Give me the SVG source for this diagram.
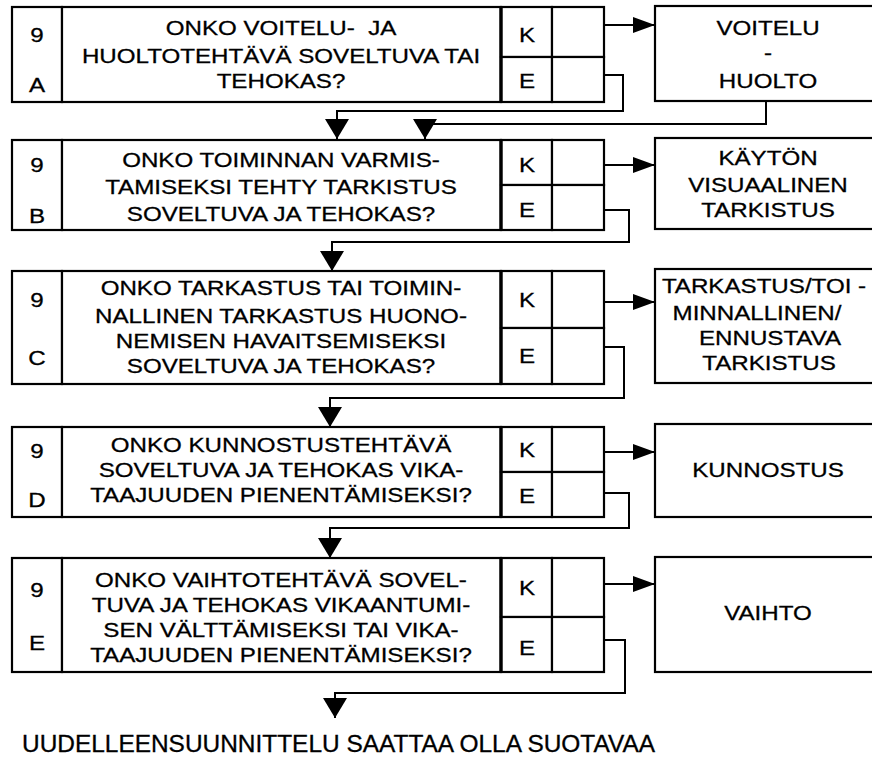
<svg xmlns="http://www.w3.org/2000/svg" width="872" height="770" viewBox="0 0 872 770">
<style>
.bx{fill:#fff;stroke:#000;stroke-width:2.2}
.sep{stroke:#000;stroke-width:3.4}
.ln{fill:none;stroke:#000;stroke-width:2}
.t{font-family:"Liberation Sans",Arial,Helvetica,sans-serif;font-size:21px;text-anchor:middle;fill:#000;stroke:#000;stroke-width:0.3}
.b{font-family:"Liberation Sans",Arial,Helvetica,sans-serif;font-size:23px;fill:#000;stroke:#000;stroke-width:0.3}
</style>
<defs>
<marker id="arr" viewBox="0 0 22 16" refX="22" refY="8" markerWidth="22" markerHeight="16" markerUnits="userSpaceOnUse" orient="auto"><path d="M0,0 L22,8 L0,16 Z" fill="#000"/></marker>
<marker id="arrd" viewBox="0 0 20 24" refX="20" refY="12" markerWidth="20" markerHeight="24" markerUnits="userSpaceOnUse" orient="auto"><path d="M0,0 L20,12 L0,24 Z" fill="#000"/></marker>
</defs>
<rect width="872" height="770" fill="#fff"/>

<!-- decision 9A -->
<g id="q9a">
<rect class="bx" x="12" y="7" width="50" height="95"/>
<rect class="bx" x="62" y="7" width="439" height="95"/>
<rect class="bx" x="501" y="7" width="51" height="50"/>
<rect class="bx" x="501" y="57" width="51" height="45"/>
<rect class="bx" x="552" y="7" width="52" height="50"/>
<rect class="bx" x="552" y="57" width="52" height="45"/>
<line class="sep" x1="501" y1="6" x2="501" y2="103"/>
<text class="t" transform="translate(37,42) scale(1.15,1)">9</text>
<text class="t" transform="translate(37,92) scale(1.15,1)">A</text>
<text class="t" transform="translate(281,35) scale(1.15,1)" xml:space="preserve">ONKO VOITELU-  JA</text>
<text class="t" transform="translate(281,63) scale(1.15,1)">HUOLTOTEHTÄVÄ SOVELTUVA TAI</text>
<text class="t" transform="translate(281,88) scale(1.15,1)">TEHOKAS?</text>
<text class="t" transform="translate(527,42) scale(1.15,1)">K</text>
<text class="t" transform="translate(527,88) scale(1.15,1)">E</text>
</g>
<g id="r9a">
<rect class="bx" x="655" y="6" width="230" height="95"/>
<text class="t" transform="translate(768,35) scale(1.15,1)">VOITELU</text>
<text class="t" transform="translate(768,60) scale(1.15,1)">-</text>
<text class="t" transform="translate(768,88) scale(1.15,1)">HUOLTO</text>
</g>

<!-- decision 9B -->
<g id="q9b">
<rect class="bx" x="12" y="140" width="50" height="90"/>
<rect class="bx" x="62" y="140" width="439" height="90"/>
<rect class="bx" x="501" y="140" width="51" height="45"/>
<rect class="bx" x="501" y="185" width="51" height="45"/>
<rect class="bx" x="552" y="140" width="52" height="45"/>
<rect class="bx" x="552" y="185" width="52" height="45"/>
<line class="sep" x1="501" y1="139" x2="501" y2="231"/>
<text class="t" transform="translate(37,172) scale(1.15,1)">9</text>
<text class="t" transform="translate(37,223) scale(1.15,1)">B</text>
<text class="t" transform="translate(281,167) scale(1.15,1)">ONKO TOIMINNAN VARMIS-</text>
<text class="t" transform="translate(281,194) scale(1.15,1)">TAMISEKSI TEHTY TARKISTUS</text>
<text class="t" transform="translate(281,221) scale(1.15,1)">SOVELTUVA JA TEHOKAS?</text>
<text class="t" transform="translate(527,172) scale(1.15,1)">K</text>
<text class="t" transform="translate(527,217) scale(1.15,1)">E</text>
</g>
<g id="r9b">
<rect class="bx" x="655" y="138" width="230" height="91"/>
<text class="t" transform="translate(768,165) scale(1.15,1)">KÄYTÖN</text>
<text class="t" transform="translate(768,192) scale(1.15,1)">VISUAALINEN</text>
<text class="t" transform="translate(768,217) scale(1.15,1)">TARKISTUS</text>
</g>

<!-- decision 9C -->
<g id="q9c">
<rect class="bx" x="12" y="271" width="50" height="113"/>
<rect class="bx" x="62" y="271" width="439" height="113"/>
<rect class="bx" x="501" y="271" width="51" height="57"/>
<rect class="bx" x="501" y="328" width="51" height="56"/>
<rect class="bx" x="552" y="271" width="52" height="57"/>
<rect class="bx" x="552" y="328" width="52" height="56"/>
<line class="sep" x1="501" y1="270" x2="501" y2="385"/>
<text class="t" transform="translate(37,307) scale(1.15,1)">9</text>
<text class="t" transform="translate(37,365) scale(1.15,1)">C</text>
<text class="t" transform="translate(281,295) scale(1.15,1)">ONKO TARKASTUS TAI TOIMIN-</text>
<text class="t" transform="translate(281,323) scale(1.15,1)">NALLINEN TARKASTUS HUONO-</text>
<text class="t" transform="translate(281,348) scale(1.15,1)">NEMISEN HAVAITSEMISEKSI</text>
<text class="t" transform="translate(281,373) scale(1.15,1)">SOVELTUVA JA TEHOKAS?</text>
<text class="t" transform="translate(527,307) scale(1.15,1)">K</text>
<text class="t" transform="translate(527,363) scale(1.15,1)">E</text>
</g>
<g id="r9c">
<rect class="bx" x="655" y="269" width="230" height="114"/>
<text class="t" transform="translate(764,293) scale(1.15,1)">TARKASTUS/TOI -</text>
<text class="t" transform="translate(757,320) scale(1.15,1)">MINNALLINEN/</text>
<text class="t" transform="translate(770,345) scale(1.15,1)">ENNUSTAVA</text>
<text class="t" transform="translate(769,370) scale(1.15,1)">TARKISTUS</text>
</g>

<!-- decision 9D -->
<g id="q9d">
<rect class="bx" x="12" y="427" width="50" height="90"/>
<rect class="bx" x="62" y="427" width="439" height="90"/>
<rect class="bx" x="501" y="427" width="51" height="45"/>
<rect class="bx" x="501" y="472" width="51" height="45"/>
<rect class="bx" x="552" y="427" width="52" height="45"/>
<rect class="bx" x="552" y="472" width="52" height="45"/>
<line class="sep" x1="501" y1="426" x2="501" y2="518"/>
<text class="t" transform="translate(37,458) scale(1.15,1)">9</text>
<text class="t" transform="translate(37,507) scale(1.15,1)">D</text>
<text class="t" transform="translate(281,452) scale(1.15,1)">ONKO KUNNOSTUSTEHTÄVÄ</text>
<text class="t" transform="translate(281,477) scale(1.15,1)">SOVELTUVA JA TEHOKAS VIKA-</text>
<text class="t" transform="translate(281,502) scale(1.15,1)">TAAJUUDEN PIENENTÄMISEKSI?</text>
<text class="t" transform="translate(527,457) scale(1.15,1)">K</text>
<text class="t" transform="translate(527,503) scale(1.15,1)">E</text>
</g>
<g id="r9d">
<rect class="bx" x="655" y="424" width="230" height="93"/>
<text class="t" transform="translate(768,477) scale(1.15,1)">KUNNOSTUS</text>
</g>

<!-- decision 9E -->
<g id="q9e">
<rect class="bx" x="12" y="558" width="50" height="114"/>
<rect class="bx" x="62" y="558" width="439" height="114"/>
<rect class="bx" x="501" y="558" width="51" height="59"/>
<rect class="bx" x="501" y="617" width="51" height="55"/>
<rect class="bx" x="552" y="558" width="52" height="59"/>
<rect class="bx" x="552" y="617" width="52" height="55"/>
<line class="sep" x1="501" y1="557" x2="501" y2="673"/>
<text class="t" transform="translate(37,597) scale(1.15,1)">9</text>
<text class="t" transform="translate(37,650) scale(1.15,1)">E</text>
<text class="t" transform="translate(281,587) scale(1.15,1)">ONKO VAIHTOTEHTÄVÄ SOVEL-</text>
<text class="t" transform="translate(281,612) scale(1.15,1)">TUVA JA TEHOKAS VIKAANTUMI-</text>
<text class="t" transform="translate(281,637) scale(1.15,1)">SEN VÄLTTÄMISEKSI TAI VIKA-</text>
<text class="t" transform="translate(281,662) scale(1.15,1)">TAAJUUDEN PIENENTÄMISEKSI?</text>
<text class="t" transform="translate(527,595) scale(1.15,1)">K</text>
<text class="t" transform="translate(527,655) scale(1.15,1)">E</text>
</g>
<g id="r9e">
<rect class="bx" x="655" y="557" width="230" height="115"/>
<text class="t" transform="translate(768,620) scale(1.15,1)">VAIHTO</text>
</g>

<!-- closing note -->
<g id="note">
<text class="b" x="22" y="752" textLength="633" lengthAdjust="spacingAndGlyphs">UUDELLEENSUUNNITTELU SAATTAA OLLA SUOTAVAA</text>
</g>

<!-- connectors: K = yes, E = no -->
<g id="connectors" class="ln">
<path d="M604,25 H655" marker-end="url(#arr)"/>
<path d="M604,75 H623 V111 H337 V139" marker-end="url(#arrd)"/>
<path d="M766,101 V124 H425 V139" marker-end="url(#arrd)"/>
<path d="M604,165 H655" marker-end="url(#arr)"/>
<path d="M604,210 H629 V242 H332 V271" marker-end="url(#arrd)"/>
<path d="M604,302 H655" marker-end="url(#arr)"/>
<path d="M604,347 H624 V398 H330 V427" marker-end="url(#arrd)"/>
<path d="M604,452 H655" marker-end="url(#arr)"/>
<path d="M604,493 H629 V528 H330 V558" marker-end="url(#arrd)"/>
<path d="M604,584 H655" marker-end="url(#arr)"/>
<path d="M604,640 H625 V693 H335 V718" marker-end="url(#arrd)"/>
</g>
</svg>
